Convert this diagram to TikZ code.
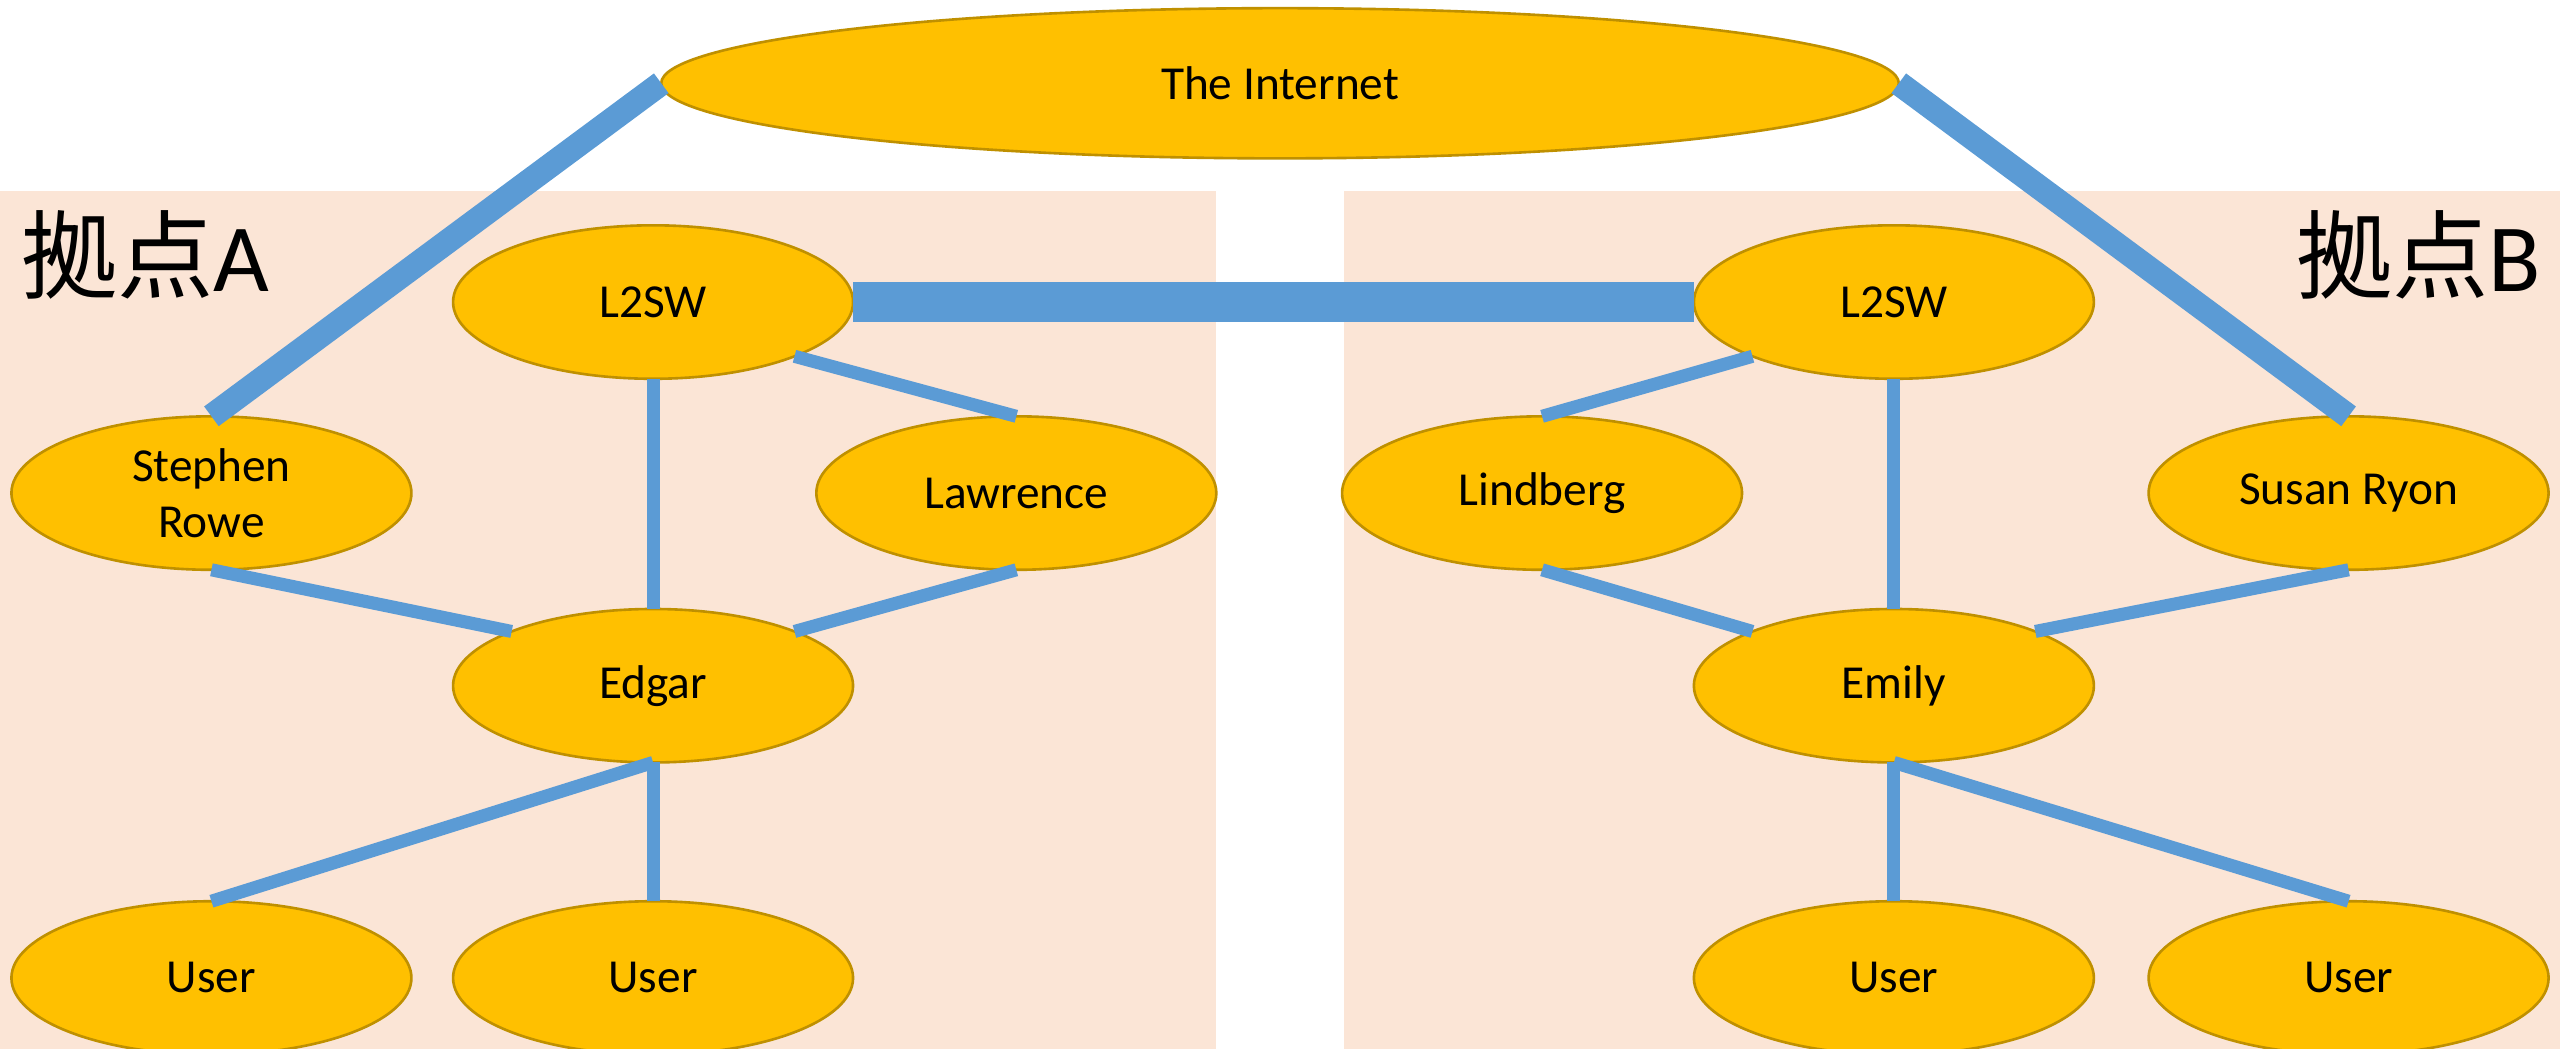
\documentclass[tikz,border=0pt]{standalone}
\usepackage{fontspec}
\setmainfont{Carlito}
\newfontfamily\cjk{Noto Sans CJK JP}
\usetikzlibrary{shapes.geometric}
\definecolor{panel}{HTML}{FBE5D6}
\definecolor{nodefill}{HTML}{FFC000}
\definecolor{nodeline}{HTML}{BF9000}
\definecolor{link}{HTML}{5B9BD5}
\begin{document}
\begin{tikzpicture}[x=0.5pt,y=-0.5pt,
  host/.style={ellipse,draw=nodeline,fill=nodefill,line width=0.8pt,
    minimum width=122.5pt,minimum height=47pt,inner sep=0pt,outer sep=0pt,
    align=center,font=\fontsize{14.5}{17}\selectfont},
  thinlink/.style={draw=link,line width=4pt},
  thicklink/.style={draw=link,line width=7.5pt},
  trunk/.style={draw=link,line width=12.25pt},
  site/.style={font=\fontsize{29.5}{32}\selectfont,inner sep=0pt,outer sep=0pt}]
\useasboundingbox (0,0) rectangle (1568,642.5);
\fill[panel] (0,117) rectangle (745,642.5);
\fill[panel] (823,117) rectangle (1568,642.5);
\node[site,anchor=base west] (siteA) at (13,178.6) {{\cjk 拠点}A};
\node[site,anchor=base east] (siteB) at (1556.5,178.6) {{\cjk 拠点}B};
% nodes
\node[host,minimum width=379pt,minimum height=46pt] (inet) at (784,51) {The Internet};
\node[host] (swA) at (400,185) {L2SW};
\node[host] (swB) at (1160,185) {L2SW};
\node[host] (steph) at (129.5,302) {Stephen\\Rowe};
\node[host] (law) at (622.5,302) {Lawrence};
\node[host] (edgar) at (400,420) {Edgar};
\node[host] (uA1) at (129.5,599) {User};
\node[host] (uA2) at (400,599) {User};
\node[host] (lind) at (944.5,302) {Lindberg};
\node[host] (susan) at (1438.5,302) {Susan Ryon};
\node[host] (emily) at (1160,420) {Emily};
\node[host] (uB1) at (1160,599) {User};
\node[host] (uB2) at (1438.5,599) {User};
% connectors
\draw[thicklink] (inet.west) -- (steph.north);
\draw[thicklink] (inet.east) -- (susan.north);
\draw[trunk] (swA.east) -- (swB.west);
\draw[thinlink] (swA.south) -- (edgar.north);
\draw[thinlink] (swA.south east) -- (law.north);
\draw[thinlink] (steph.south) -- (edgar.north west);
\draw[thinlink] (law.south) -- (edgar.north east);
\draw[thinlink] (edgar.south) -- (uA1.north);
\draw[thinlink] (edgar.south) -- (uA2.north);
\draw[thinlink] (swB.south west) -- (lind.north);
\draw[thinlink] (swB.south) -- (emily.north);
\draw[thinlink] (lind.south) -- (emily.north west);
\draw[thinlink] (susan.south) -- (emily.north east);
\draw[thinlink] (emily.south) -- (uB1.north);
\draw[thinlink] (emily.south) -- (uB2.north);
\end{tikzpicture}
\end{document}
